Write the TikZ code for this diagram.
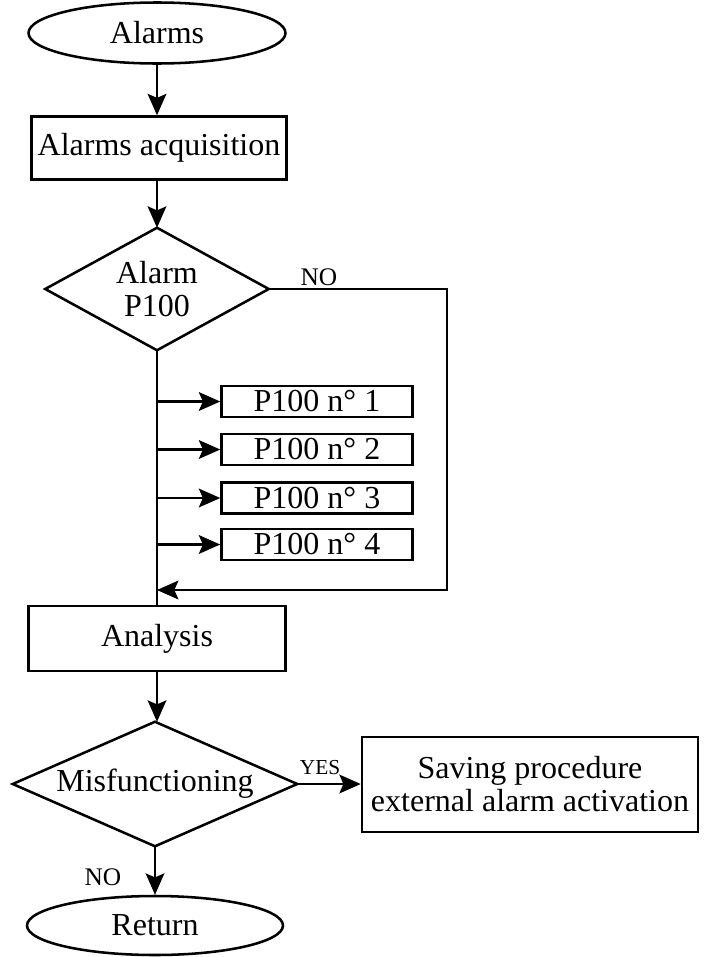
\documentclass[tikz,border=0pt]{standalone}
\usepackage{fontspec}
\setmainfont{Liberation Serif}
\usetikzlibrary{shapes.geometric,arrows.meta}
\begin{document}
\begin{tikzpicture}[x=0.75pt,y=-0.75pt,
  every node/.style={font=\fontsize{24}{24.75}\selectfont, inner sep=0pt},
  flow/.style={line width=1.9pt},
  arr/.style={flow,-{Stealth[length=16pt,width=14pt,inset=3pt]}},
  box/.style={draw,line width=1.9pt,rectangle},
  term/.style={draw,line width=1.9pt,ellipse},
  dec/.style={rectangle,align=center},
  lbl/.style={font=\fontsize{19}{19}\selectfont},
  slbl/.style={font=\fontsize{16}{16}\selectfont}
]
\useasboundingbox (0,0) rectangle (704,957);

% main column
\node[term, minimum width=192.75pt, minimum height=45.75pt] (start) at (157,33) {Alarms};
\node[box, minimum width=191.25pt, minimum height=47.25pt] (acq) at (159,148) {Alarms acquisition};
\node[dec, minimum width=167.25pt, minimum height=91.5pt] (d1) at (157,289) {Alarm\\P100};
\draw[flow] (d1.north) -- (d1.east) -- (d1.south) -- (d1.west) -- cycle;

% P100 units
\node[box, minimum width=143.25pt, minimum height=23.25pt] (p1) at (317,401.5) {P100 n° 1};
\node[box, minimum width=143.25pt, minimum height=23.25pt] (p2) at (317,449.5) {P100 n° 2};
\node[box, minimum width=143.25pt, minimum height=23.25pt] (p3) at (317,498) {P100 n° 3};
\node[box, minimum width=143.25pt, minimum height=23.25pt] (p4) at (317,544.5) {P100 n° 4};

\node[box, minimum width=192.75pt, minimum height=48.75pt] (an) at (157,638.5) {Analysis};
\node[dec, minimum width=213pt, minimum height=93pt] (d2) at (155,784) {Misfunctioning};
\draw[flow] (d2.north) -- (d2.east) -- (d2.south) -- (d2.west) -- cycle;
\node[box, minimum width=252pt, minimum height=71.25pt, align=center] (save) at (530,784.5) {Saving procedure\\external alarm activation};
\node[term, minimum width=192pt, minimum height=44.25pt] (ret) at (155,925.5) {Return};

% labels
\node[lbl] (no1) at (319,277) {NO};
\node[slbl] (yes) at (320,768) {YES};
\node[lbl] (no2) at (103,877) {NO};

% connectors
\coordinate (nocorner) at (447,590);
\draw[arr] (start.south) -- (start.south |- acq.north);
\draw[arr] (acq.south -| start.south) -- (d1.north);
\draw[flow] (d1.south) -- (d1.south |- an.north);
\draw[arr] (d1.south |- p1.west) -- (p1.west);
\draw[arr] (d1.south |- p2.west) -- (p2.west);
\draw[arr] (d1.south |- p3.west) -- (p3.west);
\draw[arr] (d1.south |- p4.west) -- (p4.west);
\draw[arr] (d1.east) -| (nocorner) -- (nocorner -| d1.south);
\draw[arr] (an.south) -- (d2.north -| an.south);
\draw[arr] (d2.east) -- (save.west |- d2.east);
\draw[arr] (d2.south) -- (ret.north);
\end{tikzpicture}
\end{document}
